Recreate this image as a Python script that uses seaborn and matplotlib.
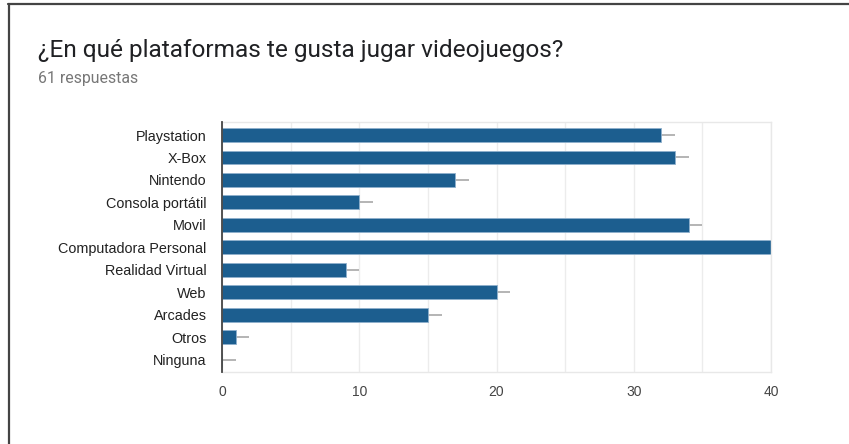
import matplotlib
matplotlib.use("Agg")
import matplotlib.pyplot as plt
from matplotlib.lines import Line2D
from matplotlib.ticker import MultipleLocator
import pandas as pd
import seaborn as sns

# Survey answers
platforms = ["Playstation", "X-Box", "Nintendo", "Consola portátil", "Movil",
             "Computadora Personal", "Realidad Virtual", "Web", "Arcades",
             "Otros", "Ninguna"]
counts = [32, 33, 17, 10, 34, 40, 9, 20, 15, 1, 0]
spread = [1, 1, 1, 1, 1, 1, 1, 1, 1, 1, 1]
x_ticks = [0, 10, 20, 30, 40]

title = "¿En qué plataformas te gusta jugar videojuegos?"
subtitle = "61 respuestas"

df = pd.DataFrame({"plataforma": platforms, "respuestas": counts})

sns.set_theme(style="white")
plt.rcParams["font.family"] = ["Liberation Sans", "DejaVu Sans"]

fig = plt.figure(figsize=(8.49, 4.44), dpi=100)
fig.patch.set_facecolor("white")
W, H = 849, 444
ax = fig.add_axes([222 / W, 1 - 372 / H, (771 - 222) / W, (372 - 122) / H])

# Spread whiskers sit behind the bars
ax.errorbar(df["respuestas"], range(len(df)), xerr=spread, fmt="none",
            ecolor="#a0a0a0", elinewidth=1.1, capsize=0, zorder=1)

sns.barplot(data=df, y="plataforma", x="respuestas", orient="h",
            color="#1c5e8f", saturation=1, width=0.62,
            edgecolor="#8fb0cc", linewidth=0.6, ax=ax, zorder=2)

ax.set_xlim(0, 40)
ax.set_ylim(10.55, -0.58)
ax.set_xticks(x_ticks)
ax.xaxis.set_minor_locator(MultipleLocator(5))
ax.grid(axis="x", which="both", color="#ececec", linewidth=1, zorder=0)
ax.set_axisbelow(True)
ax.set_xlabel("")
ax.set_ylabel("")
ax.tick_params(axis="both", length=0)
ax.tick_params(axis="x", labelsize=10, labelcolor="#444444", pad=9)
ax.tick_params(axis="y", labelsize=10.4, labelcolor="#222222", pad=11)

for side in ["top", "right", "bottom"]:
    ax.spines[side].set_color("#e8e8e8")
    ax.spines[side].set_linewidth(1)
ax.spines["left"].set_color("#444444")
ax.spines["left"].set_linewidth(1.3)
ax.spines["left"].set_zorder(5)

fig.text(38 / W, 1 - 51 / H, title, fontsize=17.6, color="#202124",
         family=["Roboto", "DejaVu Sans"], va="center", ha="left")
fig.text(38 / W, 1 - 78 / H, subtitle, fontsize=11.4, color="#777777",
         family=["Roboto", "DejaVu Sans"], va="center", ha="left")

# Card frame: top and left edges
fig.add_artist(Line2D([8 / W, 1], [1 - 4.5 / H, 1 - 4.5 / H],
                      transform=fig.transFigure, color="#444444", linewidth=1.6))
fig.add_artist(Line2D([8.5 / W, 8.5 / W], [0, 1 - 4.5 / H],
                      transform=fig.transFigure, color="#444444", linewidth=1.6))

fig.savefig("out.png", dpi=100, facecolor="white")
